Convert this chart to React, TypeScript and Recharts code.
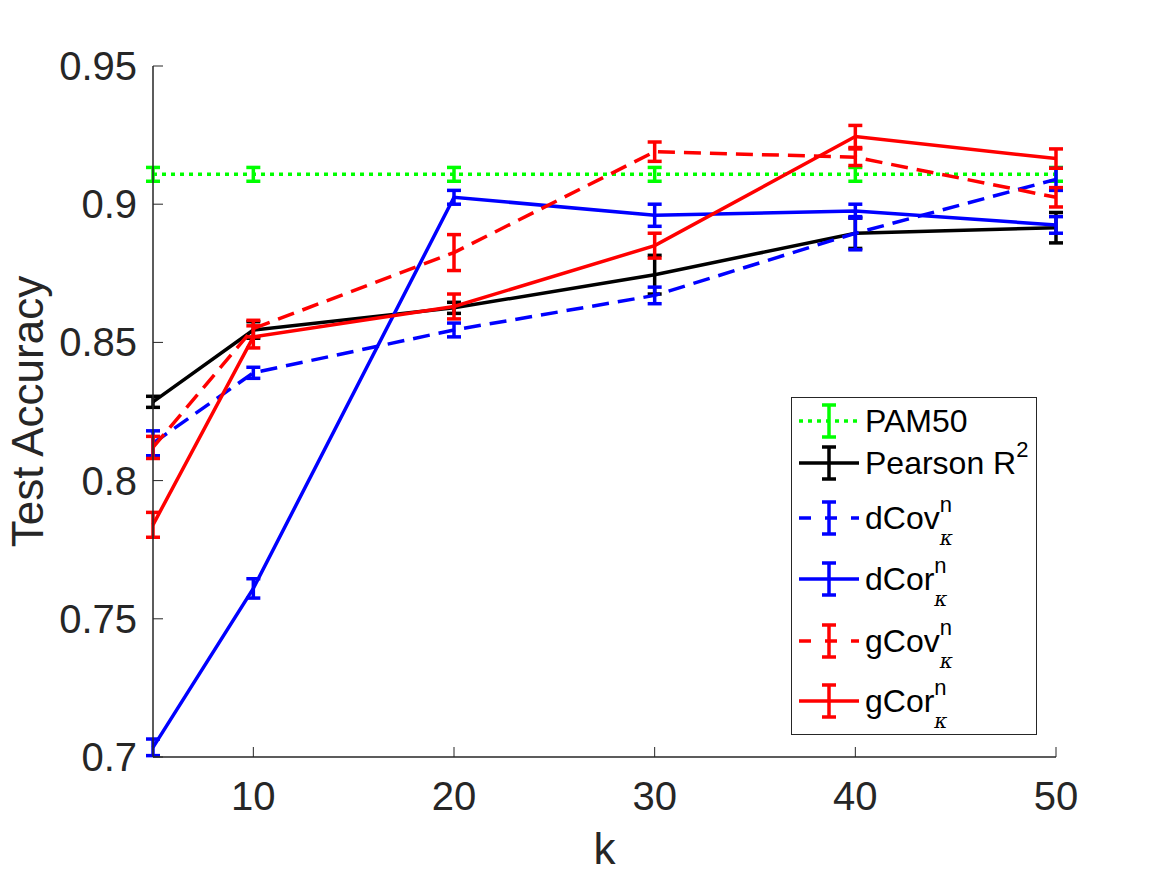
import React from "react";
import { LineChart, Line, XAxis, YAxis, ErrorBar, Legend } from "recharts";

const kValues = [5, 10, 20, 30, 40, 50];
const xTicks = [10, 20, 30, 40, 50];
const yTicks = [0.7, 0.75, 0.8, 0.85, 0.9, 0.95];

const pam50 = [0.9108, 0.9108, 0.9108, 0.9108, 0.9108, 0.9108];
const pam50Err = [0.0025, 0.0025, 0.0025, 0.0025, 0.0025, 0.0025];
const pearson = [0.8285, 0.8545, 0.8625, 0.8745, 0.8895, 0.8915];
const pearsonErr = [0.002, 0.003, 0.002, 0.007, 0.0055, 0.0055];
const dCov = [0.8135, 0.839, 0.8545, 0.867, 0.8895, 0.909];
const dCovErr = [0.0045, 0.002, 0.0025, 0.003, 0.006, 0.004];
const dCor = [0.7035, 0.761, 0.9025, 0.896, 0.8975, 0.8925];
const dCorErr = [0.003, 0.0035, 0.0025, 0.004, 0.0025, 0.003];
const gCov = [0.812, 0.855, 0.8825, 0.919, 0.917, 0.9025];
const gCovErr = [0.004, 0.003, 0.0065, 0.0035, 0.003, 0.0035];
const gCor = [0.784, 0.852, 0.863, 0.885, 0.9245, 0.9165];
const gCorErr = [0.0045, 0.004, 0.0045, 0.0045, 0.004, 0.0035];

const series = [
  { key: "pam50", name: "PAM50", values: pam50, err: pam50Err, color: "#00ff00", dash: "4 5" },
  { key: "pearson", name: "Pearson R", sup: "2", values: pearson, err: pearsonErr, color: "#000000", dash: undefined },
  { key: "dCov", name: "dCov", sup: "n", sub: "κ", values: dCov, err: dCovErr, color: "#0000ff", dash: "17 9" },
  { key: "dCor", name: "dCor", sup: "n", sub: "κ", values: dCor, err: dCorErr, color: "#0000ff", dash: undefined },
  { key: "gCov", name: "gCov", sup: "n", sub: "κ", values: gCov, err: gCovErr, color: "#ff0000", dash: "17 9" },
  { key: "gCor", name: "gCor", sup: "n", sub: "κ", values: gCor, err: gCorErr, color: "#ff0000", dash: undefined },
];

const data = kValues.map((k, i) => {
  const row: Record<string, number> = { k };
  series.forEach((s) => {
    row[s.key] = s.values[i];
    row[s.key + "Err"] = s.err[i];
  });
  return row;
});

const AXIS = "#262626";
const FONT = "'Liberation Sans', Arial, Helvetica, sans-serif";
const TICK_LEN = 10;

// legend row centres, measured from the legend box top
const legendRows = [23, 65, 120, 181, 243, 303];

const LeftTick = (props: any) => {
  const { x, y, payload } = props;
  return (
    <g>
      <line x1={x + 16} y1={y} x2={x + 16 + TICK_LEN} y2={y} stroke={AXIS} strokeWidth={1} />
      <text x={x} y={y} dy={14} textAnchor="end" fontSize={40} fill={AXIS} fontFamily={FONT}>
        {payload.value}
      </text>
    </g>
  );
};

const RightTick = (props: any) => {
  const { x, y } = props;
  return <line x1={x - TICK_LEN} y1={y} x2={x} y2={y} stroke={AXIS} strokeWidth={1} />;
};

const BottomTick = (props: any) => {
  const { x, y, payload } = props;
  return (
    <g>
      <line x1={x} y1={y - TICK_LEN} x2={x} y2={y} stroke={AXIS} strokeWidth={1} />
      <text x={x} y={y + 53} textAnchor="middle" fontSize={40} fill={AXIS} fontFamily={FONT}>
        {payload.value}
      </text>
    </g>
  );
};

const TopTick = (props: any) => {
  const { x, y } = props;
  return <line x1={x} y1={y} x2={x} y2={y + TICK_LEN} stroke={AXIS} strokeWidth={1} />;
};

const LegendBox = () => (
  <div
    style={{
      position: "relative",
      width: 246,
      height: 338,
      border: "1px solid #262626",
      background: "#fff",
      fontFamily: FONT,
      color: "#000",
      boxSizing: "border-box",
    }}
  >
    {series.map((s, i) => (
      <div
        key={s.key}
        style={{
          position: "absolute",
          left: 6,
          top: legendRows[i] - 20,
          height: 40,
          display: "flex",
          alignItems: "center",
          whiteSpace: "nowrap",
        }}
      >
        <svg width={62} height={40}>
          <line
            x1={1}
            y1={20}
            x2={61}
            y2={20}
            stroke={s.color}
            strokeWidth={3.5}
            strokeDasharray={s.dash ? (s.key === "pam50" ? "4 5" : "12 14") : undefined}
          />
          <line x1={31} y1={4} x2={31} y2={36} stroke={s.color} strokeWidth={3.5} />
          <line x1={24} y1={4} x2={38} y2={4} stroke={s.color} strokeWidth={3.5} />
          <line x1={24} y1={36} x2={38} y2={36} stroke={s.color} strokeWidth={3.5} />
        </svg>
        <span style={{ fontSize: 32, marginLeft: 5, lineHeight: "32px" }}>{s.name}</span>
        {s.sup && !s.sub && (
          <span style={{ fontSize: 22, position: "relative", top: -13, lineHeight: "22px" }}>{s.sup}</span>
        )}
        {s.sub && (
          <span
            style={{
              display: "inline-flex",
              flexDirection: "column",
              fontSize: 22,
              lineHeight: "22px",
              position: "relative",
              top: 9,
            }}
          >
            <span style={{ position: "relative", top: -11 }}>{s.sup}</span>
            <span style={{ fontStyle: "italic", fontFamily: "'DejaVu Serif', serif", fontSize: 20 }}>{s.sub}</span>
          </span>
        )}
      </div>
    ))}
  </div>
);

export default function App() {
  return (
    <div style={{ position: "absolute", left: 0, top: 0, width: 1167, height: 875, background: "#fff" }}>
      <LineChart
        width={1167}
        height={875}
        data={data}
        margin={{ top: 66, right: 111, bottom: 0, left: 0 }}
      >
        <XAxis
          dataKey="k"
          type="number"
          domain={[5, 50]}
          ticks={xTicks}
          height={118}
          tickSize={0}
          tickMargin={0}
          tickLine={false}
          axisLine={{ stroke: AXIS, strokeWidth: 1.5 }}
          tick={BottomTick}
          label={(props: any) => {
            const vb = props.viewBox;
            return (
              <text x={vb.x + vb.width / 2} y={vb.y + 107} textAnchor="middle" fontSize={44} fill={AXIS} fontFamily={FONT}>
                k
              </text>
            );
          }}
        />
        <XAxis
          xAxisId="top"
          orientation="top"
          dataKey="k"
          type="number"
          domain={[5, 50]}
          ticks={xTicks}
          height={0}
          tickSize={0}
          tickMargin={0}
          tickLine={false}
          axisLine={{ stroke: AXIS, strokeWidth: 1.5 }}
          tick={TopTick}
        />
        <YAxis
          type="number"
          domain={[0.7, 0.95]}
          ticks={yTicks}
          width={153}
          tickSize={0}
          tickMargin={16}
          tickLine={false}
          axisLine={{ stroke: AXIS, strokeWidth: 1.5 }}
          tick={LeftTick}
          label={(props: any) => {
            const vb = props.viewBox;
            const cy = vb.y + vb.height / 2;
            return (
              <text
                x={43}
                y={cy}
                transform={`rotate(-90, 43, ${cy})`}
                textAnchor="middle"
                fontSize={44}
                fill={AXIS}
                fontFamily={FONT}
              >
                Test Accuracy
              </text>
            );
          }}
        />
        <YAxis
          yAxisId="right"
          orientation="right"
          type="number"
          domain={[0.7, 0.95]}
          ticks={yTicks}
          width={0}
          tickSize={0}
          tickMargin={0}
          tickLine={false}
          axisLine={{ stroke: AXIS, strokeWidth: 1.5 }}
          tick={RightTick}
        />
        {series.map((s) => (
          <Line
            key={s.key}
            dataKey={s.key}
            name={s.name}
            stroke={s.color}
            strokeWidth={3.5}
            strokeDasharray={s.dash}
            dot={false}
            activeDot={false}
            isAnimationActive={false}
          >
            <ErrorBar dataKey={s.key + "Err"} direction="y" width={7} stroke={s.color} strokeWidth={3.5} />
          </Line>
        ))}
        <Legend
          layout="horizontal"
          verticalAlign="middle"
          align="center"
          content={() => <LegendBox />}
          wrapperStyle={{ position: "absolute", left: 791, top: 397, width: 246, height: 338 }}
        />
      </LineChart>
    </div>
  );
}
